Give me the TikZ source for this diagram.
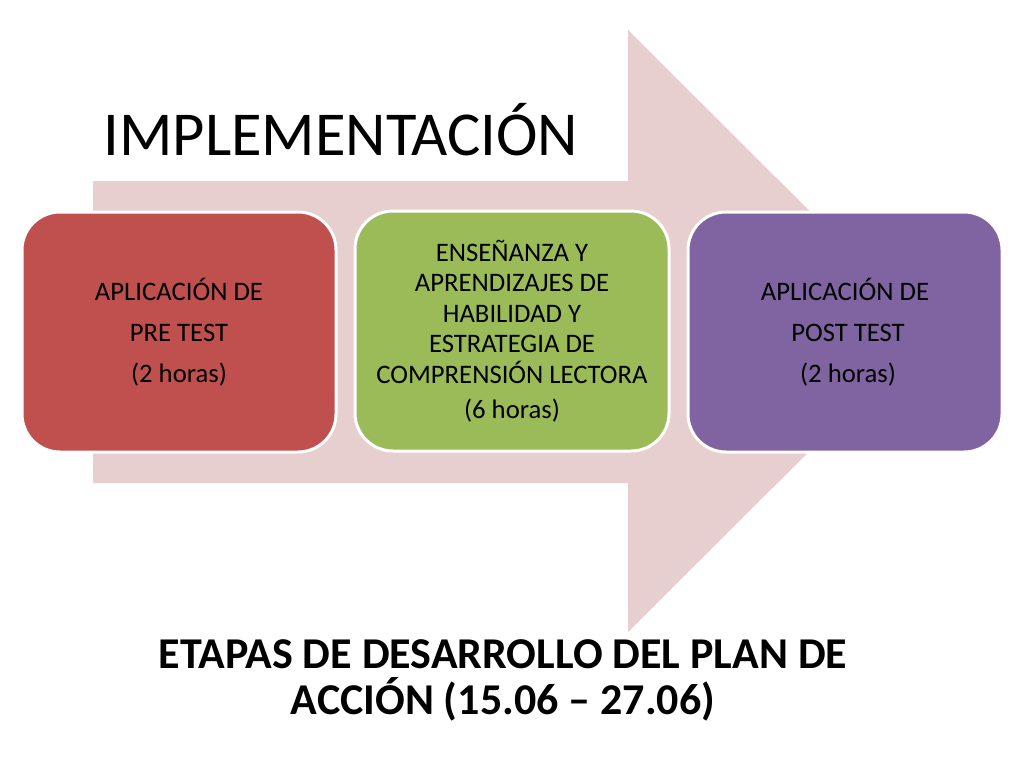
\documentclass[tikz,border=0pt]{standalone}
\usepackage{fontspec}
\setmainfont{Carlito}
\definecolor{arrowpink}{RGB}{231,207,208}
\definecolor{boxred}{RGB}{192,80,77}
\definecolor{boxgreen}{RGB}{155,187,89}
\definecolor{boxpurple}{RGB}{128,100,162}
\tikzset{
  stagebox/.style={draw=white, line width=3pt, rounded corners=38pt,
    minimum width=314pt, minimum height=240pt, align=center, inner sep=0pt,
    text=black, font=\fontsize{26.7}{41}\selectfont},
  bigtitle/.style={font=\fontsize{62.5}{66}\selectfont, anchor=base, inner sep=0pt},
  subtitle/.style={font=\fontsize{44}{46}\selectfont\bfseries, align=center, inner sep=0pt}
}
\begin{document}
\begin{tikzpicture}[x=1pt,y=-1pt]
\useasboundingbox[fill=white] (0,0) rectangle (1024,768);
% big background arrow
\fill[arrowpink] (93,181) -- (628,181) -- (628,30) -- (930,331) -- (628,632) -- (628,483) -- (93,483) -- cycle;
% title
\node[bigtitle] (title) at (341,155) {IMPLEMENTACIÓN};
% stage boxes
\node[stagebox, fill=boxred] (pre) at (179,332)
  {APLICACIÓN DE\\PRE TEST\\(2 horas)};
\node[stagebox, fill=boxgreen, font=\fontsize{26.7}{30.5}\selectfont] (mid) at (512,331)
  {ENSEÑANZA Y\\APRENDIZAJES DE\\HABILIDAD Y\\ESTRATEGIA DE\\COMPRENSIÓN LECTORA\\[5pt](6 horas)};
\node[stagebox, fill=boxpurple] (post) at (845,332)
  {APLICACIÓN DE\\\ POST TEST\\\ (2 horas)};
% bottom caption
\node[subtitle] (caption) at (503,680)
  {ETAPAS DE DESARROLLO DEL PLAN DE\\ACCIÓN (15.06 – 27.06)};
\end{tikzpicture}
\end{document}
